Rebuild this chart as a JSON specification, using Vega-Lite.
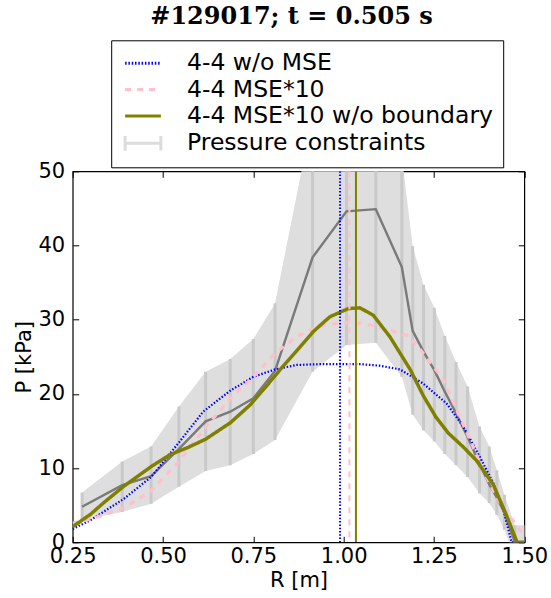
{
  "$schema": "https://vega.github.io/schema/vega-lite/v6.json",
  "width": 451.6,
  "height": 371,
  "autosize": {"type": "none"},
  "padding": {"left": 72.7, "top": 171.3, "right": 26.7, "bottom": 55.7},
  "background": "white",
  "config": {
    "view": {"stroke": "black", "strokeWidth": 1.2},
    "font": "DejaVu Sans",
    "legend": {
      "orient": "none",
      "legendX": 38.5,
      "legendY": -131,
      "direction": "vertical",
      "symbolType": "M-1.6,0H1.6",
      "symbolSize": 500,
      "symbolStrokeWidth": 3,
      "symbolOffset": 8.8,
      "labelFontSize": 23.5,
      "labelFont": "DejaVu Sans",
      "labelColor": "black",
      "labelOffset": 31,
      "labelLimit": 600,
      "strokeColor": "black",
      "fillColor": "white",
      "padding": 10,
      "rowPadding": 1.3,
      "cornerRadius": 0
    }
  },
  "title": {
    "text": "#129017; t = 0.505 s",
    "font": "DejaVu Serif",
    "fontWeight": "bold",
    "fontSize": 24,
    "color": "black",
    "anchor": "middle",
    "frame": "group",
    "baseline": "alphabetic",
    "offset": -8,
    "dx": -7
  },
  "datasets": {
    "constraints": [
      {"R": 0.276, "P": 4.8, "hi": 6.7, "lo": 3.0},
      {"R": 0.387, "P": 7.7, "hi": 10.9, "lo": 4.1},
      {"R": 0.467, "P": 8.9, "hi": 12.9, "lo": 5.2},
      {"R": 0.544, "P": 12.6, "hi": 18.3, "lo": 7.5},
      {"R": 0.618, "P": 16.3, "hi": 23.0, "lo": 9.6},
      {"R": 0.686, "P": 17.6, "hi": 24.7, "lo": 10.4},
      {"R": 0.750, "P": 19.4, "hi": 27.4, "lo": 11.9},
      {"R": 0.810, "P": 23.1, "hi": 32.2, "lo": 13.8},
      {"R": 0.914, "P": 38.4, "hi": 57.5, "lo": 23.0},
      {"R": 1.008, "P": 44.6, "hi": 62.0, "lo": 26.6},
      {"R": 1.089, "P": 44.9, "hi": 62.0, "lo": 26.9},
      {"R": 1.161, "P": 37.1, "hi": 52.0, "lo": 22.3},
      {"R": 1.191, "P": 28.5, "hi": 39.9, "lo": 17.2},
      {"R": 1.221, "P": 25.7, "hi": 34.7, "lo": 15.1},
      {"R": 1.251, "P": 23.2, "hi": 31.6, "lo": 13.6},
      {"R": 1.280, "P": 20.3, "hi": 27.8, "lo": 11.9},
      {"R": 1.311, "P": 17.4, "hi": 24.3, "lo": 10.4},
      {"R": 1.343, "P": 14.2, "hi": 21.0, "lo": 8.8},
      {"R": 1.376, "P": 10.6, "hi": 15.6, "lo": 6.6},
      {"R": 1.403, "P": 7.8, "hi": 12.9, "lo": 5.3},
      {"R": 1.424, "P": 6.0, "hi": 9.7, "lo": 3.7},
      {"R": 1.445, "P": 4.0, "hi": 6.4, "lo": 1.7},
      {"R": 1.474, "P": 0.0, "hi": 2.3, "lo": -2.3},
      {"R": 1.503, "P": 0.0, "hi": 2.3, "lo": -2.3}
    ],
    "models": [
      {"series": "4-4 w/o MSE", "R": 0.25, "P": 1.8},
      {"series": "4-4 w/o MSE", "R": 0.30, "P": 3.0},
      {"series": "4-4 w/o MSE", "R": 0.335, "P": 4.1},
      {"series": "4-4 w/o MSE", "R": 0.39, "P": 5.8},
      {"series": "4-4 w/o MSE", "R": 0.467, "P": 8.8},
      {"series": "4-4 w/o MSE", "R": 0.54, "P": 13.2},
      {"series": "4-4 w/o MSE", "R": 0.611, "P": 17.6},
      {"series": "4-4 w/o MSE", "R": 0.685, "P": 20.4},
      {"series": "4-4 w/o MSE", "R": 0.75, "P": 22.3},
      {"series": "4-4 w/o MSE", "R": 0.81, "P": 23.3},
      {"series": "4-4 w/o MSE", "R": 0.87, "P": 23.9},
      {"series": "4-4 w/o MSE", "R": 0.93, "P": 24.0},
      {"series": "4-4 w/o MSE", "R": 0.99, "P": 24.0},
      {"series": "4-4 w/o MSE", "R": 1.05, "P": 24.0},
      {"series": "4-4 w/o MSE", "R": 1.10, "P": 23.8},
      {"series": "4-4 w/o MSE", "R": 1.156, "P": 23.3},
      {"series": "4-4 w/o MSE", "R": 1.22, "P": 21.4},
      {"series": "4-4 w/o MSE", "R": 1.285, "P": 18.7},
      {"series": "4-4 w/o MSE", "R": 1.331, "P": 15.6},
      {"series": "4-4 w/o MSE", "R": 1.377, "P": 11.5},
      {"series": "4-4 w/o MSE", "R": 1.414, "P": 8.0},
      {"series": "4-4 w/o MSE", "R": 1.442, "P": 4.4},
      {"series": "4-4 w/o MSE", "R": 1.456, "P": 1.7},
      {"series": "4-4 w/o MSE", "R": 1.465, "P": 0.0},
      {"series": "4-4 w/o MSE", "R": 1.50, "P": 0.0},
      {"series": "4-4 MSE*10", "R": 0.25, "P": 2.6},
      {"series": "4-4 MSE*10", "R": 0.30, "P": 3.1},
      {"series": "4-4 MSE*10", "R": 0.335, "P": 3.7},
      {"series": "4-4 MSE*10", "R": 0.39, "P": 4.6},
      {"series": "4-4 MSE*10", "R": 0.464, "P": 6.8},
      {"series": "4-4 MSE*10", "R": 0.544, "P": 10.9},
      {"series": "4-4 MSE*10", "R": 0.611, "P": 15.1},
      {"series": "4-4 MSE*10", "R": 0.686, "P": 19.4},
      {"series": "4-4 MSE*10", "R": 0.75, "P": 22.3},
      {"series": "4-4 MSE*10", "R": 0.81, "P": 25.5},
      {"series": "4-4 MSE*10", "R": 0.87, "P": 27.7},
      {"series": "4-4 MSE*10", "R": 0.935, "P": 29.2},
      {"series": "4-4 MSE*10", "R": 0.98, "P": 29.5},
      {"series": "4-4 MSE*10", "R": 1.017, "P": 29.6},
      {"series": "4-4 MSE*10", "R": 1.05, "P": 29.5},
      {"series": "4-4 MSE*10", "R": 1.091, "P": 29.1},
      {"series": "4-4 MSE*10", "R": 1.128, "P": 28.6},
      {"series": "4-4 MSE*10", "R": 1.174, "P": 27.9},
      {"series": "4-4 MSE*10", "R": 1.202, "P": 26.6},
      {"series": "4-4 MSE*10", "R": 1.239, "P": 24.3},
      {"series": "4-4 MSE*10", "R": 1.276, "P": 21.9},
      {"series": "4-4 MSE*10", "R": 1.313, "P": 17.8},
      {"series": "4-4 MSE*10", "R": 1.35, "P": 13.8},
      {"series": "4-4 MSE*10", "R": 1.386, "P": 9.7},
      {"series": "4-4 MSE*10", "R": 1.423, "P": 6.1},
      {"series": "4-4 MSE*10", "R": 1.459, "P": 3.5},
      {"series": "4-4 MSE*10", "R": 1.488, "P": 1.7},
      {"series": "4-4 MSE*10", "R": 1.50, "P": 1.0},
      {"series": "4-4 MSE*10 w/o boundary", "R": 0.25, "P": 2.1},
      {"series": "4-4 MSE*10 w/o boundary", "R": 0.30, "P": 3.8},
      {"series": "4-4 MSE*10 w/o boundary", "R": 0.335, "P": 5.3},
      {"series": "4-4 MSE*10 w/o boundary", "R": 0.39, "P": 7.5},
      {"series": "4-4 MSE*10 w/o boundary", "R": 0.467, "P": 10.2},
      {"series": "4-4 MSE*10 w/o boundary", "R": 0.519, "P": 11.8},
      {"series": "4-4 MSE*10 w/o boundary", "R": 0.57, "P": 12.8},
      {"series": "4-4 MSE*10 w/o boundary", "R": 0.618, "P": 13.9},
      {"series": "4-4 MSE*10 w/o boundary", "R": 0.686, "P": 16.1},
      {"series": "4-4 MSE*10 w/o boundary", "R": 0.741, "P": 18.5},
      {"series": "4-4 MSE*10 w/o boundary", "R": 0.787, "P": 21.1},
      {"series": "4-4 MSE*10 w/o boundary", "R": 0.83, "P": 23.6},
      {"series": "4-4 MSE*10 w/o boundary", "R": 0.87, "P": 25.8},
      {"series": "4-4 MSE*10 w/o boundary", "R": 0.916, "P": 28.4},
      {"series": "4-4 MSE*10 w/o boundary", "R": 0.962, "P": 30.4},
      {"series": "4-4 MSE*10 w/o boundary", "R": 1.013, "P": 31.5},
      {"series": "4-4 MSE*10 w/o boundary", "R": 1.045, "P": 31.6},
      {"series": "4-4 MSE*10 w/o boundary", "R": 1.082, "P": 30.6},
      {"series": "4-4 MSE*10 w/o boundary", "R": 1.128, "P": 27.7},
      {"series": "4-4 MSE*10 w/o boundary", "R": 1.184, "P": 23.3},
      {"series": "4-4 MSE*10 w/o boundary", "R": 1.22, "P": 19.8},
      {"series": "4-4 MSE*10 w/o boundary", "R": 1.255, "P": 16.9},
      {"series": "4-4 MSE*10 w/o boundary", "R": 1.29, "P": 14.7},
      {"series": "4-4 MSE*10 w/o boundary", "R": 1.33, "P": 12.9},
      {"series": "4-4 MSE*10 w/o boundary", "R": 1.368, "P": 11.0},
      {"series": "4-4 MSE*10 w/o boundary", "R": 1.414, "P": 7.8},
      {"series": "4-4 MSE*10 w/o boundary", "R": 1.451, "P": 3.6},
      {"series": "4-4 MSE*10 w/o boundary", "R": 1.48, "P": 0.0},
      {"series": "4-4 MSE*10 w/o boundary", "R": 1.50, "P": 0.0}
    ],
    "vlines": [
      {"series": "4-4 w/o MSE", "R": 0.99},
      {"series": "4-4 MSE*10", "R": 1.016},
      {"series": "4-4 MSE*10 w/o boundary", "R": 1.034}
    ]
  },
  "resolve": {"axis": {"x": "independent", "y": "independent"}},
  "layer": [
    {
      "data": {"name": "constraints"},
      "mark": {"type": "area", "color": "#dedede", "clip": true},
      "encoding": {
        "x": {
          "field": "R", "type": "quantitative",
          "scale": {"domain": [0.25, 1.5], "nice": false, "zero": false},
          "axis": {
            "orient": "bottom", "values": [0.25, 0.5, 0.75, 1.0, 1.25, 1.5], "format": ".2f",
            "title": "R [m]", "grid": false, "domain": false,
            "labelFontSize": 21, "titleFontSize": 21, "titleFontWeight": "normal",
            "labelColor": "black", "titleColor": "black", "tickColor": "black",
            "tickSize": -6, "tickWidth": 1, "labelPadding": 9, "labelFlush": false, "labelOverlap": false,
            "titlePadding": 3
          }
        },
        "y": {
          "field": "hi", "type": "quantitative",
          "scale": {"domain": [0, 50], "nice": false, "zero": false},
          "axis": {
            "orient": "left", "values": [0, 10, 20, 30, 40, 50], "format": "d",
            "title": "P [kPa]", "grid": false, "domain": false,
            "labelFontSize": 21, "titleFontSize": 21, "titleFontWeight": "normal",
            "labelColor": "black", "titleColor": "black", "tickColor": "black",
            "tickSize": -6, "tickWidth": 1, "labelPadding": 14, "labelFlush": false, "labelOverlap": false,
            "titlePadding": 3
          }
        },
        "y2": {"field": "lo"}
      }
    },
    {
      "data": {"name": "constraints"},
      "mark": {"type": "rule", "color": "#c9c9c9", "strokeWidth": 3, "clip": true},
      "encoding": {
        "x": {
          "field": "R", "type": "quantitative",
          "axis": {"orient": "top", "values": [0.25, 0.5, 0.75, 1.0, 1.25, 1.5], "labels": false, "title": null, "grid": false, "domain": false, "tickSize": -6, "tickColor": "black"}
        },
        "y": {
          "field": "hi", "type": "quantitative",
          "axis": {"orient": "right", "values": [0, 10, 20, 30, 40, 50], "labels": false, "title": null, "grid": false, "domain": false, "tickSize": -6, "tickColor": "black"}
        },
        "y2": {"field": "lo"}
      }
    },
    {
      "data": {"name": "constraints"},
      "mark": {"type": "line", "color": "#7a7a7a", "strokeWidth": 2.4, "clip": true},
      "encoding": {
        "x": {"field": "R", "type": "quantitative", "axis": null},
        "y": {"field": "P", "type": "quantitative", "axis": null}
      }
    },
    {
      "data": {"name": "models"},
      "transform": [{"filter": "datum.series === '4-4 w/o MSE'"}],
      "mark": {"type": "line", "strokeWidth": 2.2, "clip": true},
      "encoding": {
        "x": {"field": "R", "type": "quantitative", "axis": null},
        "y": {"field": "P", "type": "quantitative", "axis": null},
        "color": {
          "field": "series", "type": "nominal",
          "scale": {"domain": ["4-4 w/o MSE", "4-4 MSE*10", "4-4 MSE*10 w/o boundary", "Pressure constraints"], "range": ["#0000ff", "#ffc0cb", "#808000", "#dcdcdc"]},
          "legend": {
            "title": null,
            "encode": {
              "symbols": {
                "update": {
                  "shape": {"signal": "datum.label === 'Pressure constraints' ? 'M-1.6,0H1.6M-1.6,-0.65V0.65M1.6,-0.65V0.65' : 'M-1.6,0H1.6'"}
                }
              }
            }
          }
        },
        "strokeDash": {
          "field": "series", "type": "nominal",
          "scale": {"domain": ["4-4 w/o MSE", "4-4 MSE*10", "4-4 MSE*10 w/o boundary", "Pressure constraints"], "range": [[1.5, 1.8], [6, 6], [1, 0], [1, 0]]},
          "legend": {"title": null}
        }
      }
    },
    {
      "data": {"name": "models"},
      "transform": [{"filter": "datum.series === '4-4 MSE*10'"}],
      "mark": {"type": "line", "strokeWidth": 3.2, "clip": true},
      "encoding": {
        "x": {"field": "R", "type": "quantitative", "axis": null},
        "y": {"field": "P", "type": "quantitative", "axis": null},
        "color": {"field": "series", "type": "nominal", "legend": {"title": null}},
        "strokeDash": {"field": "series", "type": "nominal", "legend": {"title": null}}
      }
    },
    {
      "data": {"name": "models"},
      "transform": [{"filter": "datum.series === '4-4 MSE*10 w/o boundary'"}],
      "mark": {"type": "line", "strokeWidth": 3.5, "clip": true},
      "encoding": {
        "x": {"field": "R", "type": "quantitative", "axis": null},
        "y": {"field": "P", "type": "quantitative", "axis": null},
        "color": {"field": "series", "type": "nominal", "legend": {"title": null}},
        "strokeDash": {"field": "series", "type": "nominal", "legend": {"title": null}}
      }
    },
    {
      "data": {"name": "vlines"},
      "mark": {"type": "rule", "strokeWidth": 2, "clip": true},
      "encoding": {
        "x": {"field": "R", "type": "quantitative", "axis": null},
        "color": {"field": "series", "type": "nominal", "legend": {"title": null}},
        "strokeDash": {"field": "series", "type": "nominal", "legend": {"title": null}}
      }
    }
  ]
}
